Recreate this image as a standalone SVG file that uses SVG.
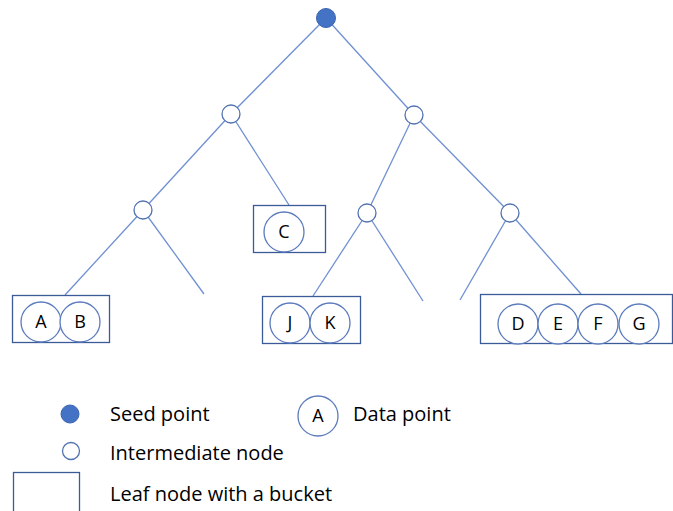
<svg xmlns="http://www.w3.org/2000/svg" width="673" height="511" viewBox="0 0 673 511">
  <style>
    .edge { stroke: #6f90d2; stroke-width: 1.3; fill: none; }
    .seed { fill: #4472c4; stroke: #3a64b0; stroke-width: 1; }
    .inter { fill: #ffffff; stroke: #5272b0; stroke-width: 1.3; }
    .bucket { fill: none; stroke: #3b5a98; stroke-width: 1.3; }
    .data { fill: #ffffff; stroke: #5b7bbd; stroke-width: 1.3; }
    .lbl { font-family: "Open Sans", "Liberation Sans", sans-serif; font-size: 18px; fill: #000; text-anchor: middle; }
    .legend { font-family: "Open Sans", "Liberation Sans", sans-serif; font-size: 20px; fill: #000; }
  </style>
  <rect width="673" height="511" fill="#ffffff"/>

  <!-- tree edges -->
  <g id="connectors">
    <line class="edge" x1="326" y1="18" x2="231" y2="114"/>
    <line class="edge" x1="326" y1="18" x2="414" y2="115"/>
    <line class="edge" x1="231" y1="114" x2="143" y2="210"/>
    <line class="edge" x1="231" y1="114" x2="289" y2="205"/>
    <line class="edge" x1="414" y1="115" x2="367" y2="213"/>
    <line class="edge" x1="414" y1="115" x2="510" y2="213"/>
    <line class="edge" x1="143" y1="210" x2="65" y2="295"/>
    <line class="edge" x1="143" y1="210" x2="204" y2="294"/>
    <line class="edge" x1="367" y1="213" x2="313" y2="296"/>
    <line class="edge" x1="367" y1="213" x2="423" y2="301"/>
    <line class="edge" x1="510" y1="213" x2="460" y2="300"/>
    <line class="edge" x1="510" y1="213" x2="581" y2="294"/>
  </g>

  <!-- seed and intermediate nodes -->
  <g id="seed"><circle class="seed" cx="326" cy="18" r="9.5"/></g>
  <g id="n1"><circle class="inter" cx="231" cy="114" r="9"/></g>
  <g id="n2"><circle class="inter" cx="414" cy="115" r="9"/></g>
  <g id="n3"><circle class="inter" cx="143" cy="210" r="9"/></g>
  <g id="n4"><circle class="inter" cx="367" cy="213" r="9"/></g>
  <g id="n5"><circle class="inter" cx="510" cy="213" r="9"/></g>

  <!-- leaf buckets -->
  <g id="leaf-c">
    <rect class="bucket" x="253.5" y="205.5" width="72" height="47"/>
    <circle class="data" cx="284" cy="232" r="20"/>
    <text class="lbl" x="284" y="238">C</text>
  </g>
  <g id="leaf-ab">
    <rect class="bucket" x="12.5" y="295.5" width="97" height="47"/>
    <circle class="data" cx="41" cy="322" r="20"/>
    <text class="lbl" x="41" y="328">A</text>
    <circle class="data" cx="80" cy="322" r="20"/>
    <text class="lbl" x="80" y="328">B</text>
  </g>
  <g id="leaf-jk">
    <rect class="bucket" x="262.5" y="296.5" width="98" height="47"/>
    <circle class="data" cx="290" cy="323" r="20"/>
    <text class="lbl" x="290" y="329">J</text>
    <circle class="data" cx="330" cy="323" r="20"/>
    <text class="lbl" x="330" y="329">K</text>
  </g>
  <g id="leaf-defg">
    <rect class="bucket" x="480.5" y="294.5" width="192" height="49"/>
    <circle class="data" cx="518" cy="324" r="20"/>
    <text class="lbl" x="518" y="330">D</text>
    <circle class="data" cx="558" cy="324" r="20"/>
    <text class="lbl" x="558" y="330">E</text>
    <circle class="data" cx="598" cy="324" r="20"/>
    <text class="lbl" x="598" y="330">F</text>
    <circle class="data" cx="639" cy="324" r="20"/>
    <text class="lbl" x="639" y="330">G</text>
  </g>

  <!-- legend -->
  <g id="legend">
    <circle class="seed" cx="70" cy="414" r="9"/>
    <text class="legend" x="110" y="421">Seed point</text>
    <circle class="data" cx="318" cy="416" r="20"/>
    <text class="lbl" x="318" y="422">A</text>
    <text class="legend" x="353" y="421">Data point</text>
    <circle class="inter" cx="71" cy="451" r="8.5"/>
    <text class="legend" x="110" y="460">Intermediate node</text>
    <rect class="bucket" x="13.5" y="472.5" width="66" height="40"/>
    <text class="legend" x="110" y="501">Leaf node with a bucket</text>
  </g>
</svg>
